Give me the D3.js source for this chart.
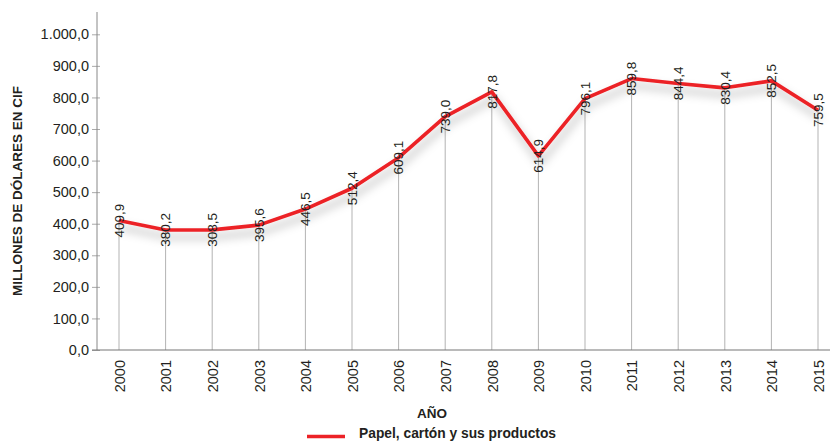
<!DOCTYPE html>
<html><head><meta charset="utf-8">
<script src="https://cdn.jsdelivr.net/npm/d3@7"></script>
<style>body{margin:0;background:#fff}svg{display:block;font-family:"Liberation Sans",Arial,sans-serif}</style>
</head><body><svg id="c" width="830" height="442"></svg>
<script>
const years = ["2000","2001","2002","2003","2004","2005","2006","2007","2008","2009","2010","2011","2012","2013","2014","2015"];
const values = [409.9,380.2,380.5,395.6,446.5,512.4,609.1,739.0,817.8,614.9,796.1,859.8,844.4,830.4,852.5,759.5];
const labels = ["409,9","380,2","308,5","395,6","446,5","512,4","609,1","739,0","817,8","614,9","796,1","859,8","844,4","830,4","852,5","759,5"];
const yTicks = [0,100,200,300,400,500,600,700,800,900,1000];
const seriesName = "Papel, cartón y sus productos";

const svg = d3.select("#c");
const x = d3.scalePoint().domain(years).range([119,818]);
const y = d3.scaleLinear().domain([0,1000]).range([350,34.3]);
const fmt = v => d3.format(",.1f")(v).replace(/,/g,"X").replace(".",",").replace(/X/g,".");

const defs = svg.append("defs");
const f = defs.append("filter").attr("id","sh").attr("x","-10%").attr("y","-30%").attr("width","120%").attr("height","160%");
f.append("feDropShadow").attr("dx",2).attr("dy",7).attr("stdDeviation",5).attr("flood-color","#000").attr("flood-opacity",0.3);

// drop lines
svg.append("g").selectAll("line").data(values).join("line")
  .attr("x1",(d,i)=>x(years[i])).attr("x2",(d,i)=>x(years[i]))
  .attr("y1",d=>y(d)).attr("y2",y(0)).attr("stroke","#b3b3b3").attr("stroke-width",1);

// y axis
const ya = svg.append("g").attr("transform","translate(97,0)")
  .call(d3.axisLeft(y).tickValues(yTicks).tickFormat(fmt).tickSize(5).tickPadding(3));
ya.select(".domain").remove();
ya.selectAll(".tick line").attr("stroke","#aaa").attr("x2",3).attr("x1",-5);
ya.selectAll("text").attr("font-size","14.5px").attr("fill","#231f20").attr("font-family","Liberation Sans, Arial");
svg.append("line").attr("x1",97).attr("x2",97).attr("y1",12).attr("y2",350).attr("stroke","#888");

// x axis
const xa = svg.append("g").attr("transform","translate(0,350)")
  .call(d3.axisBottom(x).tickSize(0).tickPadding(0));
xa.select(".domain").remove();
xa.selectAll("text").attr("transform","rotate(-90)").attr("text-anchor","end")
  .attr("x",-10).attr("y",0).attr("dy","0.36em")
  .attr("font-size","14.5px").attr("fill","#231f20").attr("font-family","Liberation Sans, Arial");
svg.append("line").attr("x1",92).attr("x2",830).attr("y1",350).attr("y2",350).attr("stroke","#777").attr("stroke-width",1.2);

// line
const line = d3.line().x((d,i)=>x(years[i])).y(d=>y(d));
svg.append("path").datum(values).attr("d",line).attr("fill","none")
  .attr("stroke","#ec2227").attr("stroke-width",3.6).attr("stroke-linejoin","round").attr("filter","url(#sh)");

// data labels
svg.append("g").selectAll("text").data(values).join("text")
  .attr("transform",(d,i)=>`translate(${x(years[i])},${y(d)}) rotate(-90)`)
  .attr("text-anchor","middle").attr("dy","0.36em")
  .attr("font-size","13.5px").attr("fill","#231f20")
  .text((d,i)=>labels[i]);

// axis titles
svg.append("text").attr("transform","translate(17,191) rotate(-90)").attr("text-anchor","middle")
  .attr("dy","0.36em").attr("font-size","13.5px").attr("font-weight","bold").attr("fill","#231f20")
  .text("MILLONES DE DÓLARES EN CIF");
svg.append("text").attr("x",432).attr("y",413).attr("text-anchor","middle").attr("dy","0.36em")
  .attr("font-size","13.5px").attr("font-weight","bold").attr("fill","#231f20").text("AÑO");

// legend
svg.append("line").attr("x1",307).attr("x2",345).attr("y1",436.5).attr("y2",436.5).attr("stroke","#ec2227").attr("stroke-width",3.6);
svg.append("text").attr("x",359).attr("y",433.5).attr("dy","0.36em").attr("font-size","13.8px")
  .attr("font-weight","bold").attr("fill","#231f20").text(seriesName);
</script></body></html>
